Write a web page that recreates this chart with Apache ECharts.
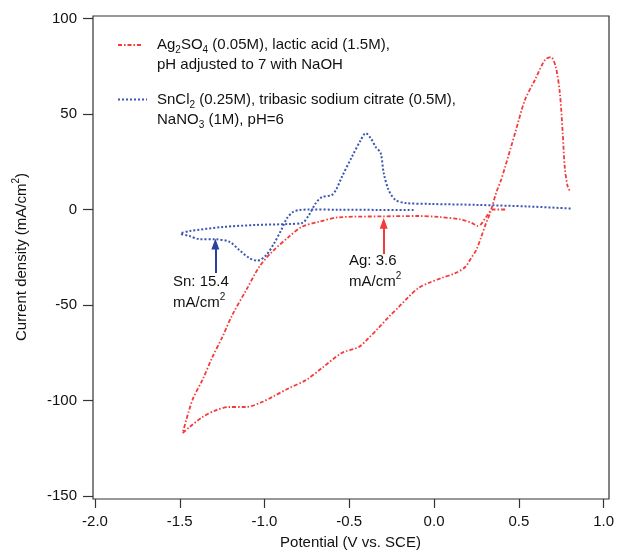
<!DOCTYPE html>
<html><head><meta charset="utf-8">
<script src="https://cdn.jsdelivr.net/npm/echarts@6/dist/echarts.min.js"></script>
<style>html,body{margin:0;padding:0;background:#fff}#c{width:617px;height:552px}</style>
</head><body><div id="c"></div>
<script>
// Ag2SO4 CV (potential V, current density mA/cm2)
const agPotential = [0.419,0.348,0.307,0.278,0.254,0.225,0.155,0.025,-0.092,-0.297,-0.562,-0.679,-0.779,-0.855,-0.955,-1.031,-1.108,-1.190,-1.249,-1.307,-1.366,-1.425,-1.483,
  -1.442,-1.366,-1.284,-1.207,-1.108,-1.014,-0.955,-0.855,-0.755,-0.661,-0.544,-0.444,-0.386,-0.327,-0.268,-0.209,-0.151,-0.092,-0.033,0.043,0.125,0.184,0.219,0.249,0.278,0.307,0.331,0.366,0.395,0.419,0.478,0.536,0.595,0.654,0.689,0.718,0.742,0.759,0.771,0.789,0.806];
const agCurrent = [0,0,-3.9,-7.6,-8.6,-7.1,-5.2,-3.9,-3.4,-3.6,-4.1,-6.4,-9.0,-14.2,-22.1,-30.0,-42.2,-55.2,-66.8,-77.2,-89.2,-99.7,-117.0,
  -113.9,-108.7,-105.0,-103.4,-103.4,-100.8,-98.2,-93.5,-89.3,-83.0,-75.1,-72.0,-67.3,-62.0,-56.3,-51.1,-45.8,-41.1,-38.5,-35.9,-33.3,-30.1,-25.4,-21.2,-14.4,-7.1,-1.8,8.6,15.4,22.2,40.0,57.3,67.8,78.3,79.8,74.6,61.0,40.0,22.2,11.8,9.2];
// SnCl2 CV
const snPotential = [-0.121,-0.327,-0.562,-0.738,-0.796,-0.832,-0.867,-0.902,-0.943,-0.990,-1.043,-1.090,-1.149,-1.207,-1.290,-1.384,-1.442,-1.495,
  -1.442,-1.249,-1.049,-0.855,-0.779,-0.738,-0.697,-0.661,-0.603,-0.579,-0.544,-0.485,-0.432,-0.403,-0.374,-0.344,-0.315,-0.297,-0.268,-0.227,-0.168,-0.016,0.260,0.554,0.806];
const snCurrent = [-0.2,-0.2,-0.1,0.0,-0.3,-1.3,-4.5,-10.8,-17.6,-23.9,-26.8,-25.4,-21.2,-16.9,-15.6,-15.5,-13.9,-12.6,
  -11.3,-9.2,-8.1,-7.6,-7.1,-2.9,3.4,6.5,7.6,10.2,17.0,27.5,36.4,40.0,37.4,32.7,29.6,19.1,10.2,5.0,3.4,2.9,2.4,1.6,0.5];
const xTicks = {min:-2.0, max:1.0, step:0.5};
const yTicks = {min:-150, max:100, step:50};
const snArrow = {x:-1.29, from:-33.3, to:-18.1};
const agArrow = {x:-0.297, from:-23.3, to:-7.2};

const zip = (a,b)=>a.map((v,i)=>[v,b[i]]);
const FONT = '"Liberation Sans", Arial, sans-serif';
const RED = '#f43a3a', BLUE = '#3a55b4';
const richStyles = {
  n:{fontFamily:FONT,fontSize:15,fill:'#111',lineHeight:20},
  sub:{fontFamily:FONT,fontSize:10,fill:'#111',verticalAlign:'bottom',lineHeight:20},
  sup:{fontFamily:FONT,fontSize:10,fill:'#111',verticalAlign:'top',lineHeight:22}
};
function txt(text,x,y,extra,align){
  return Object.assign({type:'text',silent:true,x:x,y:y,style:{text:text,fontFamily:FONT,fontSize:15,fill:'#111',rich:richStyles,align:align||'left',verticalAlign:'middle',lineHeight:20}},extra||{});
}
const chart = echarts.init(document.getElementById('c'));
chart.setOption({
  animation:false,
  backgroundColor:'#fff',
  grid:{left:95,right:11,top:18.5,bottom:56},
  xAxis:{type:'value',min:xTicks.min,max:xTicks.max,interval:xTicks.step,offset:3,
    axisLine:{show:false,onZero:false},splitLine:{show:false},
    axisTick:{show:true,length:9,lineStyle:{color:'#333',width:1.2}},
    axisLabel:{margin:15,fontFamily:FONT,fontSize:15,color:'#111',formatter:v=>v.toFixed(1)}},
  yAxis:{type:'value',min:yTicks.min,max:yTicks.max,interval:yTicks.step,offset:2,
    axisLine:{show:false,onZero:false},splitLine:{show:false},
    axisTick:{show:true,length:10,lineStyle:{color:'#333',width:1.2}},
    axisLabel:{margin:16,fontFamily:FONT,fontSize:15,color:'#111'}},
  series:[
    {type:'line',name:'Ag',data:zip(agPotential,agCurrent),showSymbol:false,smooth:0.3,
      lineStyle:{color:RED,width:1.8,type:[4,2,1.5,2]},
      markLine:{silent:true,animation:false,label:{show:false},
        data:[[{coord:[agArrow.x,agArrow.from],symbol:'none'},{coord:[agArrow.x,agArrow.to],symbol:'triangle',symbolSize:[8,11]}]],
        lineStyle:{color:RED,width:2,type:'solid'}}},
    {type:'line',name:'Sn',data:zip(snPotential,snCurrent),showSymbol:false,smooth:0.3,
      lineStyle:{color:BLUE,width:2,type:[2,2]},
      markLine:{silent:true,animation:false,label:{show:false},
        data:[[{coord:[snArrow.x,snArrow.from],symbol:'none'},{coord:[snArrow.x,snArrow.to],symbol:'triangle',symbolSize:[8,11]}]],
        lineStyle:{color:'#2b3f9e',width:2,type:'solid'}}}
  ],
  graphic:[
    {type:'rect',silent:true,shape:{x:93,y:16,width:516,height:483},style:{fill:'none',stroke:'#333',lineWidth:1.2}},
    {type:'line',silent:true,shape:{x1:118,y1:45,x2:143,y2:45},style:{stroke:RED,lineWidth:1.8,lineDash:[4,2,1.5,2]}},
    {type:'line',silent:true,shape:{x1:118,y1:99.5,x2:147,y2:99.5},style:{stroke:BLUE,lineWidth:2,lineDash:[2,2]}},
    txt('{n|Ag}{sub|2}{n|SO}{sub|4}{n| (0.05M), lactic acid (1.5M),}\n{n|pH adjusted to 7 with NaOH}',157,55),
    txt('{n|SnCl}{sub|2}{n| (0.25M), tribasic sodium citrate (0.5M),}\n{n|NaNO}{sub|3}{n| (1M), pH=6}',157,110),
    txt('{n|Sn: 15.4}\n{n|mA/cm}{sup|2}',173,293),
    txt('{n|Ag: 3.6}\n{n|mA/cm}{sup|2}',349,272),
    txt('Potential (V vs. SCE)',350.5,543,{style:{text:'Potential (V vs. SCE)',fontFamily:FONT,fontSize:15,fill:'#111',align:'center',verticalAlign:'middle'}}),
    txt('{n|Current density (mA/cm}{sup|2}{n|)}',22,257,{rotation:Math.PI/2},'center')
  ]
});
</script></body></html>
